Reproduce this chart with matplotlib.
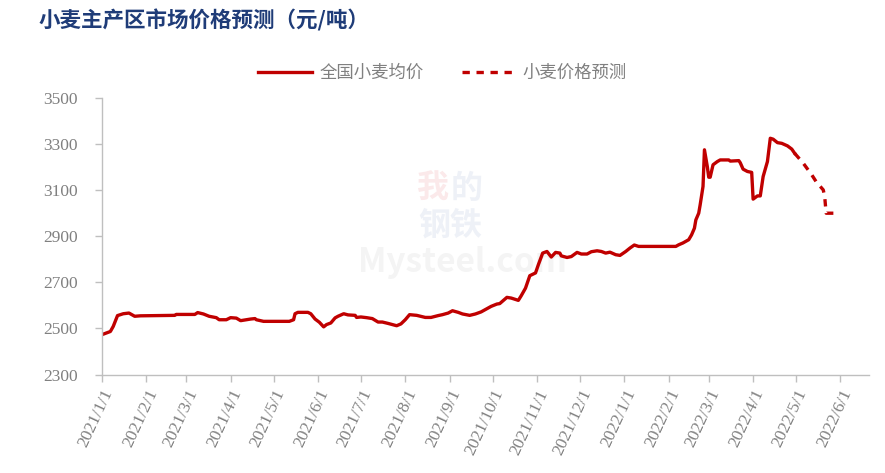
import pandas as pd
import matplotlib.pyplot as plt

plt.rcParams['font.family'] = ['Noto Sans CJK SC', 'DejaVu Sans']

# National average wheat price (yuan/ton)
actual_dates = [
    "2021-01-01", "2021-01-07", "2021-01-09", "2021-01-12", "2021-01-16", "2021-01-20",
    "2021-01-24", "2021-01-28", "2021-02-21", "2021-02-22", "2021-03-07", "2021-03-09",
    "2021-03-13", "2021-03-17", "2021-03-22", "2021-03-24", "2021-03-29", "2021-04-01",
    "2021-04-05", "2021-04-08", "2021-04-12", "2021-04-15", "2021-04-18", "2021-04-19",
    "2021-04-24", "2021-05-12", "2021-05-15", "2021-05-16", "2021-05-18", "2021-05-25",
    "2021-05-27", "2021-05-30", "2021-06-02", "2021-06-05", "2021-06-07", "2021-06-10",
    "2021-06-13", "2021-06-15", "2021-06-19", "2021-06-22", "2021-06-27", "2021-06-28",
    "2021-07-01", "2021-07-05", "2021-07-09", "2021-07-13", "2021-07-16", "2021-07-20",
    "2021-07-26", "2021-07-29", "2021-08-01", "2021-08-04", "2021-08-09", "2021-08-15",
    "2021-08-19", "2021-08-24", "2021-08-27", "2021-08-31", "2021-09-03", "2021-09-07",
    "2021-09-10", "2021-09-15", "2021-09-19", "2021-09-23", "2021-09-27", "2021-09-30",
    "2021-10-04", "2021-10-06", "2021-10-08", "2021-10-11", "2021-10-14", "2021-10-19",
    "2021-10-21", "2021-10-24", "2021-10-27", "2021-10-31", "2021-11-02", "2021-11-05",
    "2021-11-08", "2021-11-11", "2021-11-14", "2021-11-17", "2021-11-18", "2021-11-22",
    "2021-11-25", "2021-11-29", "2021-12-02", "2021-12-06", "2021-12-09", "2021-12-13",
    "2021-12-16", "2021-12-19", "2021-12-22", "2021-12-26", "2021-12-29", "2022-01-02",
    "2022-01-05", "2022-01-08", "2022-01-11", "2022-02-06", "2022-02-08", "2022-02-11",
    "2022-02-15", "2022-02-17", "2022-02-19", "2022-02-20", "2022-02-22", "2022-02-23",
    "2022-02-25", "2022-02-26", "2022-02-28", "2022-03-01", "2022-03-02", "2022-03-04",
    "2022-03-07", "2022-03-09", "2022-03-15", "2022-03-16", "2022-03-22", "2022-03-23",
    "2022-03-25", "2022-03-28", "2022-03-31", "2022-04-01", "2022-04-04", "2022-04-06",
    "2022-04-08", "2022-04-09", "2022-04-11", "2022-04-13", "2022-04-15", "2022-04-18",
    "2022-04-21", "2022-04-25", "2022-04-28", "2022-04-30",
]
actual_prices = [
    2473, 2487, 2509, 2556, 2564, 2567,
    2553, 2555, 2557, 2561, 2561, 2569,
    2563, 2553, 2547, 2538, 2538, 2547,
    2545, 2534, 2538, 2541, 2543, 2538,
    2531, 2531, 2538, 2564, 2570, 2570,
    2564, 2541, 2527, 2507, 2517, 2524,
    2546, 2553, 2564, 2559, 2557, 2548,
    2550, 2547, 2543, 2528, 2528, 2522,
    2512, 2520, 2538, 2560, 2557, 2548,
    2548, 2556, 2560, 2567, 2577, 2570,
    2563, 2557, 2563, 2572, 2586, 2596,
    2606, 2608, 2619, 2635, 2632, 2622,
    2642, 2675, 2729, 2741, 2777, 2827,
    2834, 2810, 2830, 2827, 2815, 2808,
    2812, 2830, 2823, 2823, 2833, 2837,
    2834, 2827, 2831, 2820, 2817, 2834,
    2849, 2862, 2856, 2856, 2863, 2871,
    2885, 2906, 2935, 2971, 3000, 3036,
    3116, 3275, 3202, 3156, 3156, 3210,
    3224, 3231, 3231, 3226, 3228, 3219,
    3191, 3181, 3177, 3061, 3075, 3075,
    3159, 3181, 3224, 3325, 3321, 3306,
    3303, 3292, 3278, 3260,
]

# Wheat price forecast
forecast_dates = ["2022-04-30", "2022-05-06", "2022-05-12", "2022-05-15",
                  "2022-05-20", "2022-05-21", "2022-05-22", "2022-05-28"]
forecast_prices = [3260, 3217, 3166, 3137, 3101, 3072, 3000, 3000]

tick_dates = pd.date_range("2021-01-01", "2022-06-01", freq="MS")

red = "#C00000"
gray = "#808080"
axis_gray = "#BFBFBF"

fig = plt.figure(figsize=(8.85, 4.73), dpi=100)
ax = fig.add_axes([0.115, 0.208, 0.867, 0.585])

ax.plot(pd.to_datetime(actual_dates), actual_prices, color=red, lw=2.4,
        label="全国小麦均价", solid_joinstyle="round")
ax.plot(pd.to_datetime(forecast_dates), forecast_prices, color=red, lw=2.4,
        ls=(0, (2.2, 2.0)), label="小麦价格预测")

ax.set_ylim(2300, 3500)
ax.set_yticks(range(2300, 3501, 200))
ax.set_xlim(pd.Timestamp("2021-01-01"), pd.Timestamp("2022-06-21"))
ax.set_xticks(tick_dates)
ax.set_xticklabels([f"{d.year}/{d.month}/1" for d in tick_dates])

for s in ["top", "right"]:
    ax.spines[s].set_visible(False)
for s in ["left", "bottom"]:
    ax.spines[s].set_color(axis_gray)
    ax.spines[s].set_linewidth(1)

ax.tick_params(axis="both", colors=axis_gray, length=5, width=1, direction="out")
ax.tick_params(axis="y", pad=12)
ax.tick_params(axis="x", pad=4)
for lab in ax.get_yticklabels() + ax.get_xticklabels():
    lab.set_fontfamily("Liberation Serif")
    lab.set_fontsize(12.5)
    lab.set_color(gray)
for lab in ax.get_xticklabels():
    lab.set_rotation(65)
    lab.set_ha("right")
    lab.set_va("top")
    lab.set_rotation_mode("anchor")

# faint watermark
ax.text(0.432, 0.67, "我", transform=ax.transAxes, fontsize=23,
        color="#FBE9EA", ha="center", va="center", fontweight="bold", zorder=0)
ax.text(0.476, 0.67, "的", transform=ax.transAxes, fontsize=23,
        color="#EEF1F7", ha="center", va="center", fontweight="bold", zorder=0)
ax.text(0.454, 0.54, "钢铁", transform=ax.transAxes, fontsize=23,
        color="#EEF1F7", ha="center", va="center", fontweight="bold", zorder=0)
ax.text(0.47, 0.405, "Mysteel.com", transform=ax.transAxes, fontsize=24,
        color="#F4F4F4", ha="center", va="center", fontweight="bold", zorder=0)

fig.text(0.043, 0.957, "小麦主产区市场价格预测（元/吨）", fontsize=15.5,
         fontweight="bold", color="#1F3C78", va="center", ha="left")

leg = fig.legend(loc="center", bbox_to_anchor=(0.5, 0.845), ncol=2, frameon=False,
                 fontsize=12.5, handlelength=3.1, columnspacing=2.2, handletextpad=0.4)
for t in leg.get_texts():
    t.set_color(gray)

fig.savefig("out.png", dpi=100)
